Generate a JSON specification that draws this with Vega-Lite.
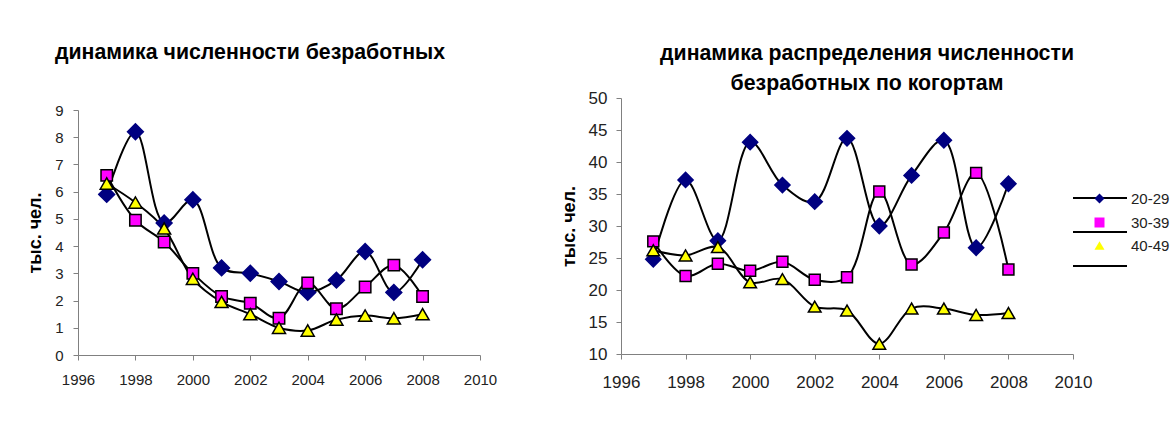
{
  "$schema": "https://vega.github.io/schema/vega-lite/v6.json",
  "background": "white",
  "padding": {"left": 26, "top": 41, "right": 0, "bottom": 0},
  "spacing": 63,
  "resolve": {
    "scale": {"color": "independent", "fill": "independent", "shape": "independent", "stroke": "independent", "size": "independent"},
    "legend": {"color": "independent", "fill": "independent", "shape": "independent"}
  },
  "datasets": {
    "total": [
      {"year": 1997, "series": "20-29", "value": 5.9},
      {"year": 1998, "series": "20-29", "value": 8.2},
      {"year": 1999, "series": "20-29", "value": 4.85},
      {"year": 2000, "series": "20-29", "value": 5.7},
      {"year": 2001, "series": "20-29", "value": 3.2},
      {"year": 2002, "series": "20-29", "value": 3.0},
      {"year": 2003, "series": "20-29", "value": 2.7},
      {"year": 2004, "series": "20-29", "value": 2.3},
      {"year": 2005, "series": "20-29", "value": 2.75},
      {"year": 2006, "series": "20-29", "value": 3.8},
      {"year": 2007, "series": "20-29", "value": 2.3},
      {"year": 2008, "series": "20-29", "value": 3.5},
      {"year": 1997, "series": "30-39", "value": 6.6},
      {"year": 1998, "series": "30-39", "value": 4.95},
      {"year": 1999, "series": "30-39", "value": 4.15},
      {"year": 2000, "series": "30-39", "value": 3.0},
      {"year": 2001, "series": "30-39", "value": 2.15},
      {"year": 2002, "series": "30-39", "value": 1.9},
      {"year": 2003, "series": "30-39", "value": 1.35},
      {"year": 2004, "series": "30-39", "value": 2.65},
      {"year": 2005, "series": "30-39", "value": 1.7},
      {"year": 2006, "series": "30-39", "value": 2.5},
      {"year": 2007, "series": "30-39", "value": 3.3},
      {"year": 2008, "series": "30-39", "value": 2.15},
      {"year": 1997, "series": "40-49", "value": 6.3},
      {"year": 1998, "series": "40-49", "value": 5.6},
      {"year": 1999, "series": "40-49", "value": 4.65},
      {"year": 2000, "series": "40-49", "value": 2.8},
      {"year": 2001, "series": "40-49", "value": 1.95},
      {"year": 2002, "series": "40-49", "value": 1.5},
      {"year": 2003, "series": "40-49", "value": 1.0},
      {"year": 2004, "series": "40-49", "value": 0.9},
      {"year": 2005, "series": "40-49", "value": 1.3},
      {"year": 2006, "series": "40-49", "value": 1.45},
      {"year": 2007, "series": "40-49", "value": 1.35},
      {"year": 2008, "series": "40-49", "value": 1.5}
    ],
    "cohorts": [
      {"year": 1997, "series": "20-29", "value": 24.8},
      {"year": 1998, "series": "20-29", "value": 37.2},
      {"year": 1999, "series": "20-29", "value": 27.7},
      {"year": 2000, "series": "20-29", "value": 43.1},
      {"year": 2001, "series": "20-29", "value": 36.4},
      {"year": 2002, "series": "20-29", "value": 33.8},
      {"year": 2003, "series": "20-29", "value": 43.7},
      {"year": 2004, "series": "20-29", "value": 30.0},
      {"year": 2005, "series": "20-29", "value": 37.9},
      {"year": 2006, "series": "20-29", "value": 43.4},
      {"year": 2007, "series": "20-29", "value": 26.6},
      {"year": 2008, "series": "20-29", "value": 36.6},
      {"year": 1997, "series": "30-39", "value": 27.6},
      {"year": 1998, "series": "30-39", "value": 22.2},
      {"year": 1999, "series": "30-39", "value": 24.1},
      {"year": 2000, "series": "30-39", "value": 23.0},
      {"year": 2001, "series": "30-39", "value": 24.4},
      {"year": 2002, "series": "30-39", "value": 21.6},
      {"year": 2003, "series": "30-39", "value": 22.0},
      {"year": 2004, "series": "30-39", "value": 35.4},
      {"year": 2005, "series": "30-39", "value": 24.0},
      {"year": 2006, "series": "30-39", "value": 29.0},
      {"year": 2007, "series": "30-39", "value": 38.3},
      {"year": 2008, "series": "30-39", "value": 23.2},
      {"year": 1997, "series": "40-49", "value": 26.2},
      {"year": 1998, "series": "40-49", "value": 25.4},
      {"year": 1999, "series": "40-49", "value": 26.7},
      {"year": 2000, "series": "40-49", "value": 21.2},
      {"year": 2001, "series": "40-49", "value": 21.7},
      {"year": 2002, "series": "40-49", "value": 17.4},
      {"year": 2003, "series": "40-49", "value": 16.8},
      {"year": 2004, "series": "40-49", "value": 11.6},
      {"year": 2005, "series": "40-49", "value": 17.1},
      {"year": 2006, "series": "40-49", "value": 17.1},
      {"year": 2007, "series": "40-49", "value": 16.1},
      {"year": 2008, "series": "40-49", "value": 16.4}
    ]
  },
  "config": {
    "font": "Liberation Sans",
    "view": {"stroke": null},
    "axis": {
      "grid": false,
      "domainColor": "#808080",
      "tickColor": "#808080",
      "tickSize": 5,
      "labelColor": "#222222",
      "titleColor": "#000000",
      "labelFont": "Liberation Sans",
      "titleFont": "Liberation Sans",
      "titleFontWeight": "bold"
    },
    "title": {"font": "Liberation Sans", "fontSize": 21.3, "fontWeight": "bold", "color": "#000000"}
  },
  "hconcat": [
    {
      "width": 402,
      "height": 257,
      "title": {"text": "динамика численности безработных", "anchor": "middle", "dx": -29, "offset": 35},
      "data": {"name": "total"},
      "encoding": {
        "x": {
          "field": "year", "type": "quantitative",
          "scale": {"domain": [1996, 2010], "nice": false, "zero": false},
          "axis": {"values": [1996, 1998, 2000, 2002, 2004, 2006, 2008, 2010], "format": "d", "title": null, "labelFontSize": 15, "labelPadding": 12, "labelFlush": false}
        },
        "y": {
          "field": "value", "type": "quantitative",
          "scale": {"domain": [0, 9], "nice": false, "zero": false, "range": [257, 12]},
          "axis": {"values": [0, 1, 2, 3, 4, 5, 6, 7, 8, 9], "title": "тыс. чел.", "titleFontSize": 18, "labelFontSize": 15, "labelPadding": 10, "titlePadding": 10}
        }
      },
      "layer": [
        {
          "mark": {"type": "line", "interpolate": "catmull-rom", "color": "black", "strokeWidth": 2},
          "encoding": {"detail": {"field": "series", "type": "nominal"}}
        },
        {
          "mark": {"type": "point", "filled": true, "opacity": 1, "strokeWidth": 1.5},
          "encoding": {
            "shape": {"field": "series", "type": "nominal", "scale": {"domain": ["20-29", "30-39", "40-49"], "range": ["diamond", "square", "triangle-up"]}, "legend": null},
            "fill": {"field": "series", "type": "nominal", "scale": {"domain": ["20-29", "30-39", "40-49"], "range": ["#000080", "#FF00FF", "#FFFF00"]}, "legend": null},
            "stroke": {"field": "series", "type": "nominal", "scale": {"domain": ["20-29", "30-39", "40-49"], "range": ["#000080", "#000000", "#000000"]}, "legend": null},
            "size": {"field": "series", "type": "ordinal", "scale": {"type": "ordinal", "domain": ["20-29", "30-39", "40-49"], "range": [250, 130, 170]}, "legend": null}
          }
        }
      ]
    },
    {
      "width": 452,
      "height": 256,
      "title": {"text": ["динамика распределения численности", "безработных по когортам"], "anchor": "middle", "dx": 20, "offset": -5, "lineHeight": 30},
      "data": {"name": "cohorts"},
      "encoding": {
        "x": {
          "field": "year", "type": "quantitative",
          "scale": {"domain": [1996, 2010], "nice": false, "zero": false},
          "axis": {"values": [1996, 1998, 2000, 2002, 2004, 2006, 2008, 2010], "format": "d", "title": null, "labelFontSize": 17, "labelPadding": 15, "labelFlush": false}
        },
        "y": {
          "field": "value", "type": "quantitative",
          "scale": {"domain": [10, 50], "nice": false, "zero": false},
          "axis": {"values": [10, 15, 20, 25, 30, 35, 40, 45, 50], "title": "тыс. чел.", "titleFontSize": 18, "labelFontSize": 17, "labelPadding": 9, "titlePadding": 10}
        }
      },
      "resolve": {"scale": {"shape": "independent", "fill": "independent"}, "legend": {"shape": "independent", "fill": "independent"}},
      "layer": [
        {
          "mark": {"type": "line", "interpolate": "catmull-rom", "strokeWidth": 2},
          "encoding": {
            "color": {
              "field": "series", "type": "nominal",
              "scale": {"range": ["#000000", "#000000", "#000000"]},
              "legend": {
                "title": null, "orient": "none", "legendX": 451, "legendY": 72,
                "symbolType": "stroke", "symbolSize": 2916, "symbolStrokeWidth": 2, "symbolStrokeColor": "#000000",
                "labelOpacity": 0, "labelFontSize": 5, "rowPadding": 2
              }
            }
          }
        },
        {
          "mark": {"type": "point", "filled": true, "opacity": 1, "strokeWidth": 1.5},
          "encoding": {
            "shape": {"field": "series", "type": "nominal", "scale": {"domain": ["20-29", "30-39", "40-49"], "range": ["diamond", "square", "triangle-up"]}, "legend": null},
            "fill": {"field": "series", "type": "nominal", "scale": {"domain": ["20-29", "30-39", "40-49"], "range": ["#000080", "#FF00FF", "#FFFF00"]}, "legend": null},
            "stroke": {"field": "series", "type": "nominal", "scale": {"domain": ["20-29", "30-39", "40-49"], "range": ["#000080", "#000000", "#000000"]}, "legend": null},
            "size": {"field": "series", "type": "ordinal", "scale": {"type": "ordinal", "domain": ["20-29", "30-39", "40-49"], "range": [230, 120, 160]}, "legend": null}
          }
        },
        {
          "mark": {"type": "point", "filled": false, "opacity": 0, "stroke": "black", "strokeWidth": 1.5},
          "encoding": {
            "shape": {
              "field": "series", "type": "nominal",
              "scale": {"domain": ["20-29", "30-39", "40-49"], "range": ["diamond", "square", "triangle-up"]},
              "legend": {
                "title": null, "orient": "none", "legendX": 471, "legendY": 93,
                "symbolSize": 100, "symbolOpacity": 1, "symbolStrokeColor": "black", "symbolStrokeWidth": 1.5,
                "labelFontSize": 15, "labelColor": "#222222", "labelOffset": 24, "rowPadding": 7
              }
            },
            "fill": {
              "field": "series", "type": "nominal",
              "scale": {"domain": ["20-29", "30-39", "40-49"], "range": ["#000080", "#FF00FF", "#FFFF00"]},
              "legend": {
                "title": null, "orient": "none", "legendX": 471, "legendY": 93,
                "symbolSize": 100, "symbolOpacity": 1, "symbolStrokeColor": "black", "symbolStrokeWidth": 1.5,
                "labelFontSize": 15, "labelColor": "#222222", "labelOffset": 24, "rowPadding": 7
              }
            }
          }
        }
      ]
    }
  ]
}
